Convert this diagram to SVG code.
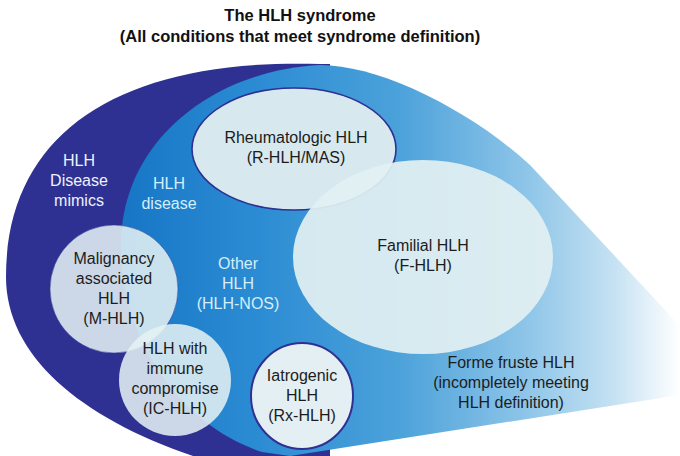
<svg xmlns="http://www.w3.org/2000/svg" width="680" height="456" viewBox="0 0 680 456">
<defs>
<linearGradient id="blueGrad" gradientUnits="userSpaceOnUse" x1="120" y1="0" x2="680" y2="0">
<stop offset="0" stop-color="#1676c6"/>
<stop offset="0.25" stop-color="#2c8cd3"/>
<stop offset="0.5" stop-color="#4ca2da"/>
<stop offset="0.72" stop-color="#8cc4e8"/>
<stop offset="0.88" stop-color="#c4e1f2"/>
<stop offset="1" stop-color="#ffffff"/>
</linearGradient>
<style>
text{font-family:"Liberation Sans",Arial,sans-serif;font-size:16px;text-anchor:middle}
.title{font-weight:bold;font-size:16.5px;fill:#111}
.dk{fill:#1c1c1c}
.wt{fill:#eef2ff}
.cy{fill:#d4eefa}
.navy{fill:#2e3192}
.lens{fill:#e4f1f3;fill-opacity:0.87}
.lensF{fill:#e2f0f2;fill-opacity:0.93}
</style>
</defs>
<g id="title">
<text class="title" x="300" y="21">The HLH syndrome</text>
<text class="title" x="300" y="42">(All conditions that meet syndrome definition)</text>
</g>
<g id="hlh-disease-mimics">
<path class="navy" d="M320,64 C120,58 6,132 6,277 C6,370 110,440 260,475 L330,475 L330,64 Z"/>
<text class="wt" x="79" y="166">HLH</text>
<text class="wt" x="79" y="186">Disease</text>
<text class="wt" x="79" y="206">mimics</text>
</g>
<g id="hlh-disease">
<path fill="url(#blueGrad)" d="M320,65 C380,65 470,110 530,165 L680,326 L680,395 L290,456 L262,452 C180,425 121,340 121,245 C121,140 215,70 320,65 Z"/>
<text class="cy" x="169" y="189">HLH</text>
<text class="cy" x="169" y="209">disease</text>
</g>
<g id="forme-fruste">
<text class="dk" x="511" y="368">Forme fruste HLH</text>
<text class="dk" x="511" y="388">(incompletely meeting</text>
<text class="dk" x="511" y="408">HLH definition)</text>
</g>
<g id="other-hlh">
<text class="cy" x="238" y="269">Other</text>
<text class="cy" x="238" y="289">HLH</text>
<text class="cy" x="238" y="309">(HLH-NOS)</text>
</g>
<g id="rheumatologic">
<ellipse cx="294" cy="149" rx="102" ry="61" fill="#d7e9ef" stroke="#2e3192" stroke-width="1.6"/>
<text class="dk" x="296" y="143">Rheumatologic HLH</text>
<text class="dk" x="296" y="163">(R-HLH/MAS)</text>
</g>
<g id="familial">
<ellipse class="lensF" cx="423" cy="257" rx="130" ry="97"/>
<text class="dk" x="423" y="251">Familial HLH</text>
<text class="dk" x="423" y="271">(F-HLH)</text>
</g>
<g id="malignancy">
<circle class="lens" cx="114" cy="289" r="64" stroke="#2e3192" stroke-opacity="0.5" stroke-width="1"/>
<text class="dk" x="114" y="264">Malignancy</text>
<text class="dk" x="114" y="284">associated</text>
<text class="dk" x="114" y="304">HLH</text>
<text class="dk" x="114" y="324">(M-HLH)</text>
</g>
<g id="immune-compromise">
<circle class="lens" cx="175" cy="380" r="56"/>
<text class="dk" x="175" y="354">HLH with</text>
<text class="dk" x="175" y="374">immune</text>
<text class="dk" x="175" y="394">compromise</text>
<text class="dk" x="175" y="414">(IC-HLH)</text>
</g>
<g id="iatrogenic">
<ellipse cx="302" cy="396" rx="51" ry="53" fill="#e3eff3" stroke="#2e3192" stroke-width="2"/>
<text class="dk" x="302" y="381">Iatrogenic</text>
<text class="dk" x="302" y="401">HLH</text>
<text class="dk" x="302" y="421">(Rx-HLH)</text>
</g>
<g id="connectors"/>
</svg>
